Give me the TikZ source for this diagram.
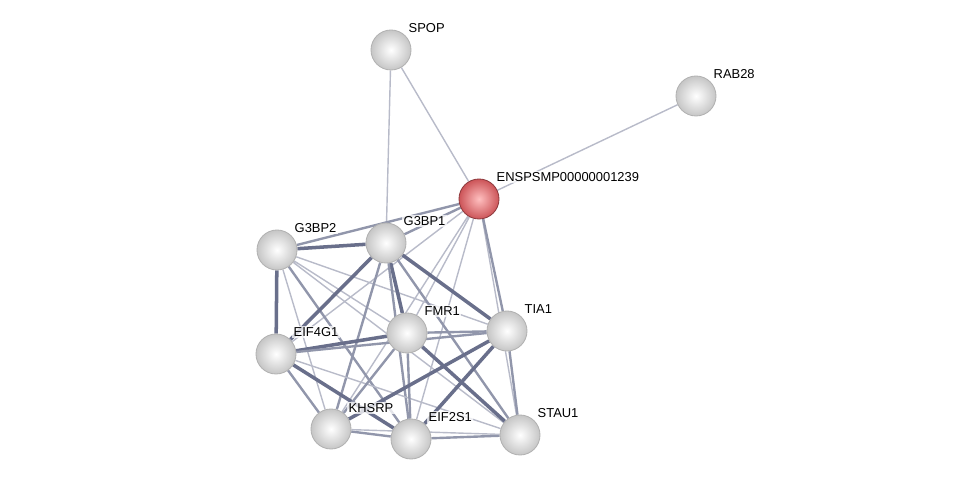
\documentclass[tikz,border=0pt]{standalone}
\usepackage{fontspec}
\setmainfont{Liberation Sans}
\usepackage{tikz}
\usetikzlibrary{backgrounds}
\usepackage{xcolor}
\definecolor{edgeblue}{HTML}{4E5677}
\definecolor{queryred}{HTML}{CC5458}

\begin{document}
\begin{tikzpicture}[x=0.025cm,y=-0.025cm,
      prot/.style={circle,minimum size=1cm,inner sep=0pt,draw=gray!60,line width=0.6pt,shading=radial,inner color=white,outer color=gray!45},
      query/.style={prot,draw=queryred!70!black,inner color=red!25,outer color=queryred},
      tag/.style={anchor=west,inner sep=1pt,fill=white,fill opacity=0.75,text opacity=1,font=\fontsize{9.2}{11}\selectfont},
      weak/.style={draw=edgeblue!40,line width=1.0pt},
      medium/.style={draw=edgeblue!62,line width=1.7pt},
      strong/.style={draw=edgeblue!85,line width=2.5pt}
    ]
      \useasboundingbox (0,0) rectangle (976,484);
      % proteins
      \node[prot] (spop) at (391,50) {};
      \node[prot] (rab) at (696,96) {};
      \node[query] (ensp) at (479,199) {};
      \node[prot] (gbpb) at (277,250) {};
      \node[prot] (gbpa) at (386,243) {};
      \node[prot] (fmr) at (407,333) {};
      \node[prot] (tia) at (507,331) {};
      \node[prot] (eif4) at (276,354) {};
      \node[prot] (khs) at (331,429) {};
      \node[prot] (eif2) at (411,439) {};
      \node[prot] (stau) at (520,435) {};
      % names
      \node[tag] at (407,28) {SPOP};
      \node[tag] at (712,74) {RAB28};
      \node[tag] at (495,177) {ENSPSMP00000001239};
      \node[tag] at (293,228) {G3BP2};
      \node[tag] at (402,221) {G3BP1};
      \node[tag] at (423,311) {FMR1};
      \node[tag] at (523,309) {TIA1};
      \node[tag] at (292,332) {EIF4G1};
      \node[tag] at (347,408) {KHSRP};
      \node[tag] at (427,417) {EIF2S1};
      \node[tag] at (536,413) {STAU1};
      % links
      \begin{scope}[on background layer]
      \draw[weak] (spop) -- (ensp) (spop) -- (gbpa) (rab) -- (ensp);
      \draw[weak] (ensp) -- (fmr) (ensp) -- (stau) (ensp) -- (eif4) (ensp) -- (khs) (ensp) -- (eif2);
      \draw[medium] (ensp) -- (gbpb) (ensp) -- (gbpa) (ensp) -- (tia);
      \draw[weak] (gbpb) -- (fmr) (gbpb) -- (tia) (gbpb) -- (khs) (gbpb) -- (stau);
      \draw[medium] (gbpb) -- (eif2);
      \draw[strong] (gbpb) -- (gbpa) (gbpb) -- (eif4);
      \draw[strong] (gbpa) -- (eif4) (gbpa) -- (fmr) (gbpa) -- (tia);
      \draw[medium] (gbpa) -- (khs) (gbpa) -- (eif2) (gbpa) -- (stau);
      \draw[strong] (eif4) -- (fmr) (eif4) -- (eif2);
      \draw[medium] (eif4) -- (tia) (eif4) -- (khs);
      \draw[weak] (eif4) -- (stau);
      \draw[medium] (fmr) -- (tia) (fmr) -- (khs) (fmr) -- (eif2);
      \draw[strong] (fmr) -- (stau);
      \draw[strong] (tia) -- (khs) (tia) -- (eif2);
      \draw[medium] (tia) -- (stau);
      \draw[medium] (khs) -- (eif2) (eif2) -- (stau);
      \draw[weak] (khs) -- (stau);
      \end{scope}
    \end{tikzpicture}
\end{document}
